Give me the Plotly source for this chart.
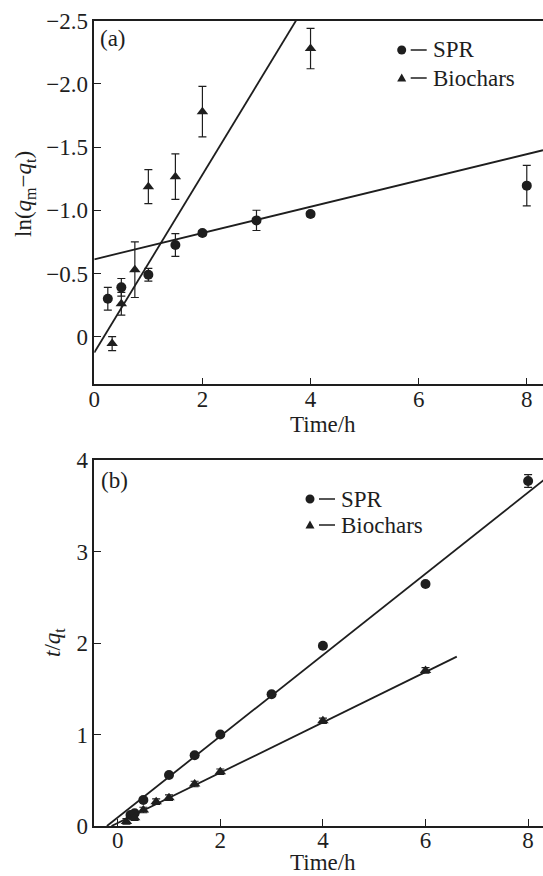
import plotly.graph_objects as go

# ---------------- data ----------------
# panel (a): ln(qm - qt) vs time
time_a_spr = [0.25, 0.5, 1.0, 1.5, 2.0, 3.0, 4.0, 8.0]
ln_a_spr = [-0.30, -0.39, -0.49, -0.725, -0.82, -0.92, -0.97, -1.195]
err_a_spr = [0.09, 0.07, 0.05, 0.09, 0.02, 0.08, 0.02, 0.16]

time_a_bio = [0.33, 0.5, 0.75, 1.0, 1.5, 2.0, 4.0]
ln_a_bio = [0.055, -0.26, -0.53, -1.187, -1.266, -1.78, -2.28]
err_a_bio = [0.055, 0.09, 0.22, 0.135, 0.18, 0.20, 0.16]

fit_a_spr = {"intercept": -0.612, "slope": -0.104, "x": [0.0, 8.3]}
fit_a_bio = {"intercept": 0.126, "slope": -0.704, "x": [0.0, 8.3]}

# panel (b): t/qt vs time
time_b_spr = [0.25, 0.33, 0.5, 1.0, 1.5, 2.0, 3.0, 4.0, 6.0, 8.0]
tq_b_spr = [0.12, 0.14, 0.285, 0.557, 0.773, 1.0, 1.44, 1.97, 2.645, 3.77]
err_b_spr = [0.02, 0.02, 0.02, 0.02, 0.02, 0.02, 0.02, 0.02, 0.02, 0.07]

time_b_bio = [0.17, 0.33, 0.5, 0.75, 1.0, 1.5, 2.0, 4.0, 6.0]
tq_b_bio = [0.05, 0.09, 0.175, 0.266, 0.31, 0.459, 0.593, 1.15, 1.70]
err_b_bio = [0.03, 0.03, 0.03, 0.03, 0.03, 0.03, 0.03, 0.03, 0.03]

fit_b_spr = {"intercept": 0.093, "slope": 0.444, "x": [-0.21, 8.4]}
fit_b_bio = {"intercept": 0.033, "slope": 0.275, "x": [-0.12, 6.61]}

xticks = [0, 2, 4, 6, 8]
yticks_a = [-2.5, -2.0, -1.5, -1.0, -0.5, 0]
yticktext_a = ["\u22122.5", "\u22122.0", "\u22121.5", "\u22121.0", "\u22120.5", "0"]
yticks_b = [0, 1, 2, 3, 4]

# ---------------- figure ----------------
W, H = 543, 876
FONT = "Liberation Serif"
FS = 23
INK = "#1e1e1e"


def px(x):
    return x / W


def py(y):
    return 1 - y / H


def line_pts(fit):
    xs = fit["x"]
    return xs, [fit["intercept"] + fit["slope"] * x for x in xs]


fig = go.Figure()

marker_circle = dict(symbol="circle", size=10, color=INK)
marker_tri = dict(symbol="triangle-up", size=10, color=INK)


def err(vals):
    return dict(type="data", array=vals, visible=True, color=INK, thickness=1.2, width=4)


# panel (a)
for fit in (fit_a_spr, fit_a_bio):
    xs, ys = line_pts(fit)
    fig.add_trace(go.Scatter(x=xs, y=ys, mode="lines", line=dict(color=INK, width=1.8),
                             xaxis="x", yaxis="y", showlegend=False, hoverinfo="skip"))
fig.add_trace(go.Scatter(x=time_a_spr, y=ln_a_spr, mode="markers", marker=marker_circle,
                         error_y=err(err_a_spr), xaxis="x", yaxis="y", showlegend=False))
fig.add_trace(go.Scatter(x=time_a_bio, y=ln_a_bio, mode="markers", marker=marker_tri,
                         error_y=err(err_a_bio), xaxis="x", yaxis="y", showlegend=False))

# panel (b)
for fit in (fit_b_spr, fit_b_bio):
    xs, ys = line_pts(fit)
    fig.add_trace(go.Scatter(x=xs, y=ys, mode="lines", line=dict(color=INK, width=1.8),
                             xaxis="x2", yaxis="y2", showlegend=False, hoverinfo="skip"))
fig.add_trace(go.Scatter(x=time_b_spr, y=tq_b_spr, mode="markers", marker=marker_circle,
                         error_y=err(err_b_spr), xaxis="x2", yaxis="y2", showlegend=False))
fig.add_trace(go.Scatter(x=time_b_bio, y=tq_b_bio, mode="markers", marker=marker_tri,
                         error_y=err(err_b_bio), xaxis="x2", yaxis="y2", showlegend=False))

axis_common = dict(showgrid=False, zeroline=False, showline=True, linecolor=INK, linewidth=1.5,
                   ticks="inside", ticklen=7, tickwidth=1.3, tickcolor=INK, automargin=False,
                   tickfont=dict(family=FONT, size=FS, color=INK))

xdom = [px(94.3), 1.0]
fig.update_layout(
    template="none",
    width=W, height=H,
    margin=dict(l=0, r=0, t=0, b=0, pad=0),
    paper_bgcolor="white", plot_bgcolor="white",
    xaxis=dict(domain=xdom, range=[0, 8.3], tickvals=xticks, anchor="y", mirror=True,
               ticklabelstandoff=-7, **axis_common),
    yaxis=dict(domain=[py(384.3), py(20.7)], range=[0.377, -2.5], tickvals=yticks_a,
               ticktext=yticktext_a, anchor="x", **axis_common),
    xaxis2=dict(domain=xdom, range=[-0.456, 8.29], tickvals=xticks, anchor="y2", mirror=True,
                ticklabelstandoff=-7, **axis_common),
    yaxis2=dict(domain=[py(826), py(460)], range=[0, 4], tickvals=yticks_b, anchor="x2", **axis_common),
)

ann_font = dict(family=FONT, size=FS, color=INK)
annotations = [
    dict(x=px(113), y=py(38), text="(a)"),
    dict(x=px(115), y=py(480), text="(b)"),
    dict(x=px(323), y=py(424), text="Time/h"),
    dict(x=px(323), y=py(862), text="Time/h"),
    dict(x=px(25), y=py(194), text="ln(<i>q</i><sub>m</sub>\u2212<i>q</i><sub>t</sub>)", textangle=-90),
    dict(x=px(54), y=py(643), text="<i>t</i>/<i>q</i><sub>t</sub>", textangle=-90),
]
for a in annotations:
    a.update(xref="paper", yref="paper", showarrow=False, font=ann_font,
             xanchor="center", yanchor="middle")

# legend texts
legend_items = [
    (401.7, 50, "SPR", "circle"), (401.7, 78, "Biochars", "tri"),
    (310, 499, "SPR", "circle"), (310, 525, "Biochars", "tri"),
]
shapes = []
for (cx, cy, label, kind) in legend_items:
    annotations.append(dict(x=px(cx + 29), y=py(cy), text=label, xref="paper", yref="paper",
                            showarrow=False, font=ann_font, xanchor="left", yanchor="middle"))
    shapes.append(dict(type="line", xref="paper", yref="paper", x0=px(cx + 9), x1=px(cx + 25),
                       y0=py(cy), y1=py(cy), line=dict(color=INK, width=1.5)))
    r = 4.5
    if kind == "circle":
        shapes.append(dict(type="circle", xref="paper", yref="paper", x0=px(cx - r), x1=px(cx + r),
                           y0=py(cy + r), y1=py(cy - r), fillcolor=INK, line=dict(color=INK, width=0)))
    else:
        path = "M {:.5f},{:.5f} L {:.5f},{:.5f} L {:.5f},{:.5f} Z".format(
            px(cx - 4.5), py(cy + 3.5), px(cx + 4.5), py(cy + 3.5), px(cx), py(cy - 4.5))
        shapes.append(dict(type="path", xref="paper", yref="paper", path=path,
                           fillcolor=INK, line=dict(color=INK, width=0)))

fig.update_layout(annotations=annotations, shapes=shapes)
fig.write_html("out.html", config={"displayModeBar": False},
               post_script="document.body.style.margin='0';document.body.style.overflow='hidden';")
